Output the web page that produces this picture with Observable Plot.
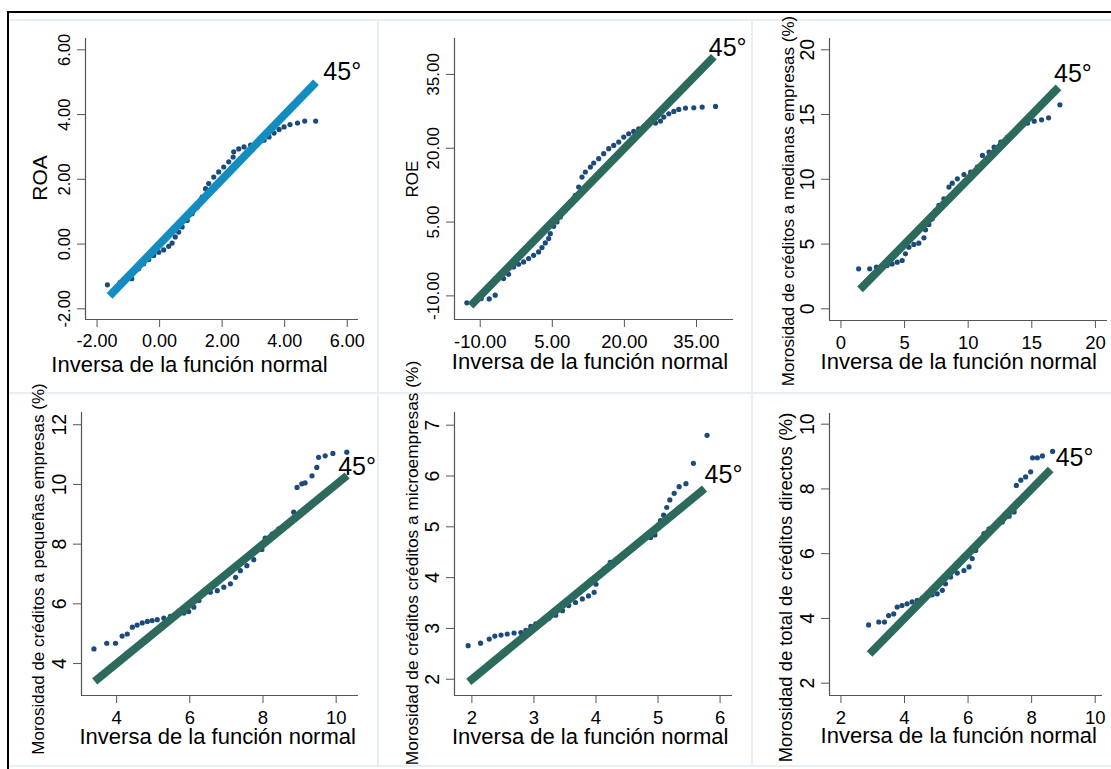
<!DOCTYPE html>
<html><head><meta charset="utf-8">
<script src="https://cdn.jsdelivr.net/npm/d3@7"></script>
<script src="https://cdn.jsdelivr.net/npm/@observablehq/plot@0.6"></script>
<style>
html,body{margin:0;padding:0;background:#fff}
body{width:1111px;height:769px;overflow:hidden;position:relative;font-family:"Liberation Sans",Arial,sans-serif}
#frame{position:absolute;left:7px;top:11px;width:1104px;height:758px;border-top:2px solid #000;border-left:2px solid #000;box-sizing:border-box;overflow:hidden}
.sep{position:absolute;background:#e6eff1}
#frame svg{position:absolute;overflow:visible}
</style></head>
<body><div id="frame"></div>
<script>
// ---------- data ----------
const xTitle = "Inversa de la función normal";
const label45 = "45°";
const yTitles = [
  "ROA",
  "ROE",
  "Morosidad de créditos a medianas empresas (%)",
  "Morosidad de créditos a pequeñas empresas (%)",
  "Morosidad de créditos créditos a microempresas (%)",
  "Morosidad de total de créditos directos (%)"
];
// tick values
const roaTicks = [-2, 0, 2, 4, 6];
const roeTicks = [-10, 5, 20, 35];
const medTicks = [0, 5, 10, 15, 20];
const pequeXTicks = [4, 6, 8, 10];
const pequeYTicks = [4, 6, 8, 10, 12];
const microXTicks = [2, 3, 4, 5, 6];
const microYTicks = [2, 3, 4, 5, 6, 7];
const totalTicks = [2, 4, 6, 8, 10];
// 45-degree reference line: start and end value
const roaLine = [-1.6, 5];
const roeLine = [-12, 38.6];
const medLine = [1.5, 17.1];
const pequeLine = [3.4, 10.3];
const microLine = [1.95, 5.75];
const totalLine = [2.9, 8.6];
// quantile points [inverse normal, observed]
const roaPts = [[-1.67,-1.26],[-1.26,-1.18],[-0.89,-1.07],[-0.67,-0.76],[-0.51,-0.61],[-0.35,-0.48],[-0.19,-0.35],[-0.03,-0.25],[0.13,-0.18],[0.29,-0.07],[0.40,0.03],[0.50,0.22],[0.61,0.37],[0.72,0.53],[0.88,0.73],[1.04,0.94],[1.20,1.14],[1.36,1.45],[1.47,1.71],[1.57,1.87],[1.73,2.07],[1.89,2.23],[2.05,2.38],[2.21,2.54],[2.35,2.69],[2.37,2.85],[2.53,2.94],[2.70,3.00],[2.91,3.06],[3.12,3.12],[3.34,3.21],[3.50,3.31],[3.66,3.43],[3.82,3.54],[3.98,3.62],[4.17,3.69],[4.41,3.74],[4.64,3.80],[4.99,3.80]];
const roePts = [[-12.78,-11.42],[-11.04,-11.01],[-9.79,-10.54],[-8.13,-10.61],[-6.88,-9.86],[-5.14,-6.48],[-4.10,-5.60],[-3.06,-4.11],[-2.01,-3.57],[-0.97,-3.10],[0.07,-2.42],[1.11,-1.75],[2.15,-1.07],[2.85,-0.19],[3.54,0.76],[4.24,1.64],[4.58,2.65],[5.28,4.14],[5.97,5.02],[6.67,6.04],[7.71,7.39],[8.75,8.74],[9.79,10.43],[10.49,12.12],[11.18,14.15],[11.88,15.17],[12.92,16.18],[13.61,17.0],[14.65,17.88],[15.69,18.89],[16.74,19.91],[17.78,20.58],[18.82,21.26],[19.86,22.27],[20.90,22.95],[21.94,23.42],[22.99,23.96],[24.03,24.44],[25.07,24.84],[26.46,25.12],[27.5,25.52],[28.19,26.33],[29.24,27.01],[30.28,27.48],[31.32,27.89],[32.71,28.16],[34.44,28.23],[36.18,28.36],[38.96,28.50]];
const medPts = [[1.39,3.09],[2.26,3.09],[2.79,3.22],[3.23,3.27],[3.63,3.35],[4.02,3.47],[4.42,3.60],[4.81,3.73],[5.07,4.25],[5.34,4.76],[5.73,4.97],[6.12,5.07],[6.52,5.48],[6.65,6.10],[6.91,6.51],[7.17,6.95],[7.44,7.59],[7.70,7.98],[8.09,8.49],[8.49,9.40],[8.75,9.70],[9.15,10.04],[9.67,10.37],[10.20,10.55],[10.72,10.94],[11.12,11.84],[11.64,12.10],[12.04,12.48],[12.56,12.87],[13.09,13.26],[13.61,13.64],[14.14,14.08],[14.67,14.34],[15.19,14.49],[15.77,14.59],[16.32,14.75],[17.21,15.75]];
const pequePts = [[3.38,4.49],[3.73,4.68],[3.97,4.68],[4.15,4.92],[4.29,4.99],[4.43,5.22],[4.56,5.29],[4.70,5.36],[4.84,5.41],[4.97,5.44],[5.11,5.47],[5.29,5.52],[5.47,5.58],[5.65,5.63],[5.84,5.69],[5.97,5.74],[6.11,5.89],[6.25,6.11],[6.38,6.33],[6.56,6.39],[6.75,6.44],[6.93,6.56],[7.11,6.67],[7.25,6.89],[7.38,7.11],[7.56,7.28],[7.75,7.48],[7.97,7.82],[8.06,8.20],[8.25,8.34],[8.43,8.51],[8.84,9.07],[8.93,9.90],[9.06,10.02],[9.15,10.05],[9.34,10.29],[9.47,10.57],[9.52,10.91],[9.70,10.96],[9.91,11.04],[10.29,11.08]];
const microPts = [[1.94,2.66],[2.14,2.71],[2.28,2.79],[2.37,2.85],[2.47,2.87],[2.57,2.89],[2.68,2.91],[2.79,2.92],[2.87,2.96],[2.95,3.04],[3.03,3.09],[3.14,3.15],[3.24,3.20],[3.35,3.26],[3.46,3.35],[3.56,3.45],[3.67,3.51],[3.78,3.58],[3.88,3.64],[3.97,3.71],[4.00,3.87],[4.03,4.01],[4.13,4.17],[4.23,4.30],[4.34,4.37],[4.45,4.44],[4.55,4.56],[4.66,4.66],[4.77,4.75],[4.88,4.79],[4.95,4.84],[4.98,4.99],[5.04,5.12],[5.09,5.23],[5.14,5.38],[5.19,5.53],[5.26,5.66],[5.34,5.79],[5.45,5.85],[5.57,6.25],[5.79,6.80]];
const totalPts = [[2.87,3.80],[3.19,3.89],[3.37,3.89],[3.50,4.09],[3.66,4.14],[3.77,4.35],[3.92,4.40],[4.08,4.45],[4.24,4.51],[4.40,4.56],[4.56,4.63],[4.71,4.69],[4.87,4.73],[5.03,4.76],[5.19,4.87],[5.29,5.07],[5.45,5.28],[5.66,5.40],[5.87,5.48],[6.03,5.59],[6.13,5.85],[6.24,6.10],[6.34,6.36],[6.50,6.62],[6.66,6.77],[6.87,6.88],[7.08,6.98],[7.29,7.16],[7.45,7.29],[7.52,8.11],[7.66,8.27],[7.81,8.37],[7.97,8.53],[8.03,8.96],[8.18,8.96],[8.34,9.02],[8.66,9.16]];

// ---------- layout / style ----------
const FONT = '"Liberation Sans", Arial, sans-serif';
const DOT = "#1c4a7a";
const AXIS = "#555";
const panels = [
  {pts: roaPts, line: roaLine, title: yTitles[0], xt: roaTicks, yt: roaTicks, dec: 2,
   left: 0, top: 0, w: 375, h: 385, ml: 85, mt: 38, mr: 17, mb: 66, xd: [-2.37, 6.36], yd: [-2.33, 6.35],
   color: "#138dc0", xfs: 18, yfs: 16.5, ty: [-38.3, -1, 21], tx: [-32.5, 52], l45: [7.4, -2]},
  {pts: roePts, line: roeLine, title: yTitles[1], xt: roeTicks, yt: roeTicks, dec: 2,
   left: 375, top: 0, w: 375, h: 385, ml: 79, mt: 38, mr: 17, mb: 66, xd: [-15.35, 42.7], yd: [-14.8, 42.3],
   color: "#2d6a5e", xfs: 18.5, yfs: 17, ty: [-36.3, 0, 17], tx: [-4, 49], l45: [-5, -1]},
  {pts: medPts, line: medLine, title: yTitles[2], xt: medTicks, yt: medTicks, dec: 0,
   left: 750, top: 0, w: 361, h: 385, ml: 79, mt: 38, mr: 4, mb: 65, xd: [-0.9, 20.95], yd: [-0.9, 20.87],
   color: "#2d6a5e", xfs: 18.5, yfs: 19.5, ty: [-35.8, 21.5, 17], tx: [-9.7, 48.3], l45: [-4.5, -5]},
  {pts: pequePts, line: pequeLine, title: yTitles[3], xt: pequeXTicks, yt: pequeYTicks, dec: 0,
   left: 0, top: 385, w: 375, h: 384, ml: 81, mt: 27, mr: 17, mb: 74, xd: [3.04, 10.61], yd: [2.93, 12.41],
   color: "#2d6a5e", xfs: 18.5, yfs: 19.5, ty: [-38, 15, 17], tx: [-2.3, 48], l45: [-9, 0]},
  {pts: microPts, line: microLine, title: yTitles[4], xt: microXTicks, yt: microYTicks, dec: 0,
   left: 375, top: 385, w: 375, h: 384, ml: 79, mt: 27, mr: 18, mb: 74, xd: [1.72, 6.2], yd: [1.68, 7.25],
   color: "#2d6a5e", xfs: 18.5, yfs: 19.5, ty: [-36.3, 9, 17.3], tx: [-3.3, 48], l45: [0, -6]},
  {pts: totalPts, line: totalLine, title: yTitles[5], xt: totalTicks, yt: totalTicks, dec: 0,
   left: 750, top: 385, w: 361, h: 384, ml: 79, mt: 28, mr: 9, mb: 74, xd: [1.64, 10.23], yd: [1.62, 10.33],
   color: "#2d6a5e", xfs: 18.5, yfs: 19.5, ty: [-37.6, 33, 18.4], tx: [-7.2, 47.5], l45: [5, -4]}
];

const frame = document.getElementById("frame");
const OX = 9, OY = 13; // inner origin of the bordered frame in page coords
function sep(x, y, w, h) {
  const d = document.createElement("div");
  d.className = "sep";
  d.style.left = (x - OX) + "px"; d.style.top = (y - OY) + "px";
  d.style.width = w + "px"; d.style.height = h + "px";
  frame.appendChild(d);
}
sep(8, 19, 1103, 2); sep(8, 392, 1103, 2); sep(8, 765, 1103, 2);
sep(377, 20, 2, 746); sep(751, 20, 2, 746);

for (const p of panels) {
  const fmt = p.dec ? (d => d.toFixed(p.dec)) : (d => String(d));
  const svg = Plot.plot({
    width: p.w, height: p.h,
    marginLeft: p.ml, marginTop: p.mt, marginRight: p.mr, marginBottom: p.mb,
    style: {fontFamily: FONT, background: "transparent", overflow: "visible", color: "#000"},
    x: {domain: p.xd},
    y: {domain: p.yd},
    marks: [
      Plot.ruleX([p.xd[0]], {stroke: AXIS, strokeWidth: 1.2}),
      Plot.ruleY([p.yd[0]], {stroke: AXIS, strokeWidth: 1.2}),
      Plot.axisX({ticks: p.xt, tickFormat: fmt, tickSize: 8, tickPadding: 7, fontSize: p.xfs, stroke: AXIS, fill: "#000", label: null}),
      Plot.axisY({ticks: p.yt, tickFormat: fmt, tickSize: 8, tickPadding: 8, tickRotate: -90, fontSize: p.yfs, stroke: AXIS, fill: "#000", label: null}),
      Plot.dot(p.pts, {x: d => d[0], y: d => d[1], r: 2.6, fill: DOT}),
      Plot.line(p.line.map(v => [v, v]), {stroke: p.color, strokeWidth: 8, strokeLinecap: "butt"}),
      Plot.text([p.line[1]], {x: d => d, y: d => d, text: () => label45, textAnchor: "start", lineAnchor: "bottom",
        dx: p.l45[0], dy: p.l45[1], fontSize: 25, fill: "#000"}),
      Plot.text([p.title], {text: d => d, frameAnchor: "left", rotate: -90, textAnchor: "middle", lineAnchor: "bottom",
        dx: p.ty[0], dy: p.ty[1], fontSize: p.ty[2], fill: "#000"}),
      Plot.text([xTitle], {text: d => d, frameAnchor: "bottom", textAnchor: "middle", lineAnchor: "bottom",
        dx: p.tx[0], dy: p.tx[1], fontSize: 22, fill: "#000"})
    ]
  });
  svg.style.left = (p.left - OX) + "px";
  svg.style.top = (p.top - OY) + "px";
  frame.appendChild(svg);
}
</script>
</body></html>
